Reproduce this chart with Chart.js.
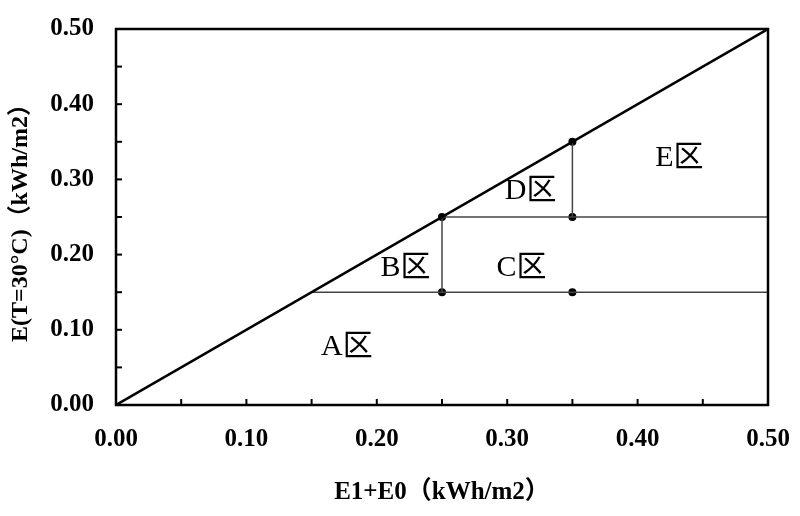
<!DOCTYPE html>
<html>
<head>
<meta charset="utf-8">
<script src="https://cdn.jsdelivr.net/npm/chart.js@4.4.0/dist/chart.umd.min.js"></script>
<style>
  html, body { margin: 0; padding: 0; background: #fff; }
  #wrap { width: 800px; height: 516px; }
</style>
</head>
<body>
<div id="wrap"><canvas id="c"></canvas></div>
<script>
// 数据
const diagonalX = [0.00, 0.50];
const diagonalY = [0.00, 0.50];
const lowLineX = [0.15, 0.50];     // E = 0.15
const lowLineY = [0.15, 0.15];
const highLineX = [0.25, 0.50];    // E = 0.25
const highLineY = [0.25, 0.25];
const vert1X = [0.25, 0.25];
const vert1Y = [0.15, 0.25];
const vert2X = [0.35, 0.35];
const vert2Y = [0.25, 0.35];
const dotX = [0.25, 0.25, 0.35, 0.35, 0.35];
const dotY = [0.25, 0.15, 0.35, 0.25, 0.15];
const zoneNames = ['A区', 'B区', 'C区', 'D区', 'E区'];
const zoneX = [0.177, 0.222, 0.311, 0.318, 0.432];
const zoneY = [0.077, 0.182, 0.182, 0.285, 0.328];
const tickValues = [0.00, 0.05, 0.10, 0.15, 0.20, 0.25, 0.30, 0.35, 0.40, 0.45, 0.50];

const toPts = (xs, ys) => xs.map((x, i) => ({ x: x, y: ys[i] }));
const serif = "'Liberation Serif', 'DejaVu Serif', serif";

const lineSet = (xs, ys, color, w) => ({
    data: toPts(xs, ys), showLine: true, borderColor: color, borderWidth: w,
    pointRadius: 0, fill: false, tension: 0
});

// 内向刻度 + 区域标签
const extras = {
    id: 'extras',
    afterDatasetsDraw(chart) {
        const ctx = chart.ctx, xs = chart.scales.x, ys = chart.scales.y;
        const area = chart.chartArea;
        ctx.save();
        ctx.strokeStyle = '#000';
        ctx.lineWidth = 2;
        tickValues.forEach((v, i) => {
            const len = 6;
            const px = xs.getPixelForValue(v);
            const py = ys.getPixelForValue(v);
            if (i > 0 && i < tickValues.length - 1) {
                ctx.beginPath(); ctx.moveTo(px, area.bottom); ctx.lineTo(px, area.bottom - len); ctx.stroke();
                ctx.beginPath(); ctx.moveTo(area.left, py); ctx.lineTo(area.left + len, py); ctx.stroke();
            }
        });
        // 边框
        ctx.lineWidth = 2.5;
        ctx.strokeRect(area.left, area.top, area.right - area.left, area.bottom - area.top);

        ctx.fillStyle = '#000';
        ctx.font = "30px " + serif + ", 'Noto Sans CJK SC'";
        ctx.textAlign = 'center';
        ctx.textBaseline = 'middle';
        zoneNames.forEach((t, i) => {
            ctx.fillText(t, xs.getPixelForValue(zoneX[i]), ys.getPixelForValue(zoneY[i]));
        });
        ctx.restore();
    }
};

new Chart(document.getElementById('c').getContext('2d'), {
    type: 'scatter',
    data: {
        datasets: [
            lineSet(diagonalX, diagonalY, '#000', 2.5),
            lineSet(lowLineX, lowLineY, '#444', 1.5),
            lineSet(highLineX, highLineY, '#444', 1.5),
            lineSet(vert1X, vert1Y, '#444', 1.5),
            lineSet(vert2X, vert2Y, '#444', 1.5),
            {
                data: toPts(dotX, dotY), showLine: false, pointRadius: 4,
                pointBackgroundColor: '#000', pointBorderColor: '#000', pointBorderWidth: 0
            }
        ]
    },
    options: {
        responsive: true,
        maintainAspectRatio: false,
        animation: false,
        layout: { padding: { top: 29, right: 32, left: 0, bottom: 0 } },
        plugins: { legend: { display: false }, tooltip: { enabled: false } },
        scales: {
            x: {
                type: 'linear', min: 0, max: 0.5,
                grid: { display: false },
                border: { display: false },
                afterFit: (s) => { s.height = 111; s.paddingLeft = 0; s.paddingRight = 0; },
                afterBuildTicks: (s) => { s.ticks = [0, 0.1, 0.2, 0.3, 0.4, 0.5].map(v => ({ value: v })); },
                ticks: {
                    color: '#000', padding: 12, maxRotation: 0,
                    font: { family: serif, size: 25, weight: 'bold' },
                    callback: (v) => Number(v).toFixed(2)
                },
                title: {
                    display: true, text: 'E1+E0（kWh/m2）', color: '#000',
                    font: { family: serif + ", 'Noto Sans CJK SC'", size: 25, weight: 'bold' },
                    padding: { top: 4, bottom: 8 }
                }
            },
            y: {
                type: 'linear', min: 0, max: 0.5,
                grid: { display: false },
                border: { display: false },
                afterFit: (s) => { s.width = 116; s.paddingTop = 0; s.paddingBottom = 0; },
                afterBuildTicks: (s) => { s.ticks = [0, 0.1, 0.2, 0.3, 0.4, 0.5].map(v => ({ value: v })); },
                ticks: {
                    color: '#000', padding: 14,
                    font: { family: serif, size: 25, weight: 'bold' },
                    callback: (v) => Number(v).toFixed(2)
                },
                title: {
                    display: true, text: 'E(T=30°C)（kWh/m2）', color: '#000',
                    font: { family: serif + ", 'Noto Sans CJK SC'", size: 24, weight: 'bold' },
                    padding: { top: 6, bottom: 0 }
                }
            }
        }
    },
    plugins: [extras]
});
</script>
</body>
</html>
